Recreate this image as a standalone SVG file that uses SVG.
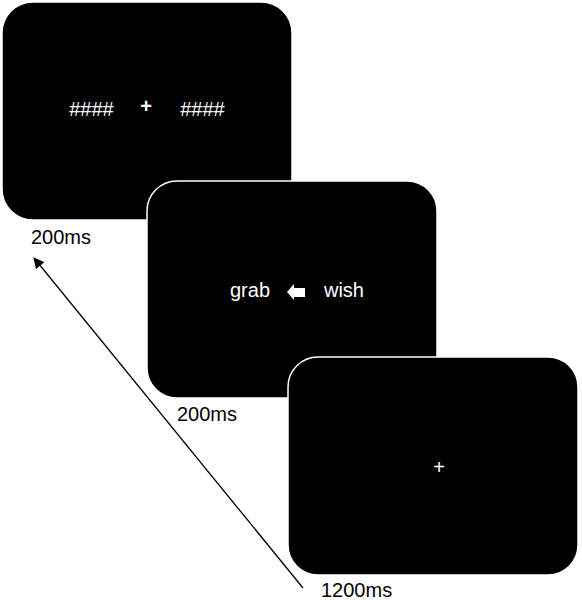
<svg xmlns="http://www.w3.org/2000/svg" width="582" height="600" viewBox="0 0 582 600">
<defs>
<style>
.screen{fill:#000;stroke:#fff;stroke-width:1.5}
.w{fill:#fff;font-family:"Liberation Sans",Arial,sans-serif;font-size:20px}
.lbl{fill:#000;font-family:"Liberation Sans",Arial,sans-serif;font-size:20px}
</style>
<marker id="ah" viewBox="0 0 10 10" refX="9" refY="5" markerWidth="11" markerHeight="11" markerUnits="userSpaceOnUse" orient="auto">
<path d="M0,0 L10,5 L0,10 z" fill="#000"/>
</marker>
</defs>
<rect width="582" height="600" fill="#fff"/>
<g id="connectors">
<line x1="303" y1="588" x2="34" y2="258" stroke="#000" stroke-width="1.3" marker-end="url(#ah)"/>
</g>
<g id="screen1">
<rect class="screen" x="2" y="2" width="290" height="218" rx="31" ry="31"/>
<text class="w" x="91.5" y="115.5" text-anchor="middle" font-size="22">####</text>
<text class="w" x="146" y="113" text-anchor="middle" font-weight="bold" font-size="18">+</text>
<text class="w" x="202.5" y="115.5" text-anchor="middle" font-size="22">####</text>
<text class="lbl" x="31" y="244">200ms</text>
</g>
<g id="screen2">
<rect class="screen" x="147" y="181" width="290" height="217" rx="30" ry="30"/>
<text class="w" x="250" y="297" text-anchor="middle">grab</text>
<path d="M287,292 L294,284 L294,288 L305,288 L305,297 L294,297 L294,300 z" fill="#fff"/>
<text class="w" x="344" y="297" text-anchor="middle">wish</text>
<text class="lbl" x="177" y="421">200ms</text>
</g>
<g id="screen3">
<rect class="screen" x="288" y="357" width="290" height="218" rx="30" ry="30"/>
<text class="w" x="439" y="474" text-anchor="middle" font-size="24">+</text>
<text class="lbl" x="321" y="597">1200ms</text>
</g>
</svg>
